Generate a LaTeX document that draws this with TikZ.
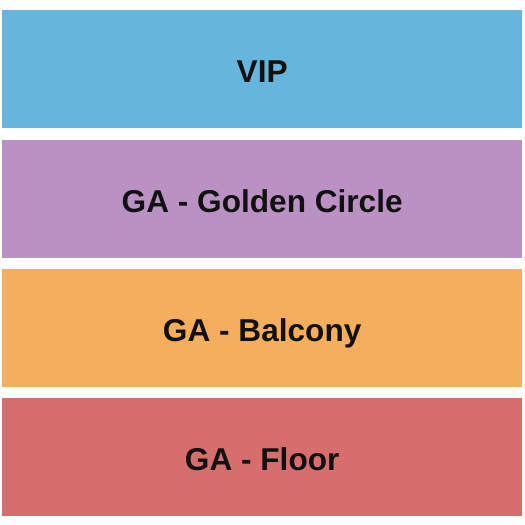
\documentclass[tikz,border=0pt]{standalone}
\usepackage{fontspec}
\setmainfont{Liberation Sans}
\usetikzlibrary{positioning}
\definecolor{vipblue}{HTML}{66B5DC}
\definecolor{goldenpurple}{HTML}{BA91C3}
\definecolor{balconyorange}{HTML}{F4AE5C}
\definecolor{floorred}{HTML}{D76E6E}
\definecolor{labeltext}{HTML}{111111}
\tikzstyle{section} = [rectangle, minimum width=520pt, minimum height=118pt, inner sep=0pt, text height=27pt, text depth=0pt, text=labeltext, font=\fontsize{31.6}{32}\selectfont\bfseries]
\begin{document}
\begin{tikzpicture}[x=1pt, y=1pt, node distance=11pt]
      \useasboundingbox (0,0) rectangle (525,-525);
      \node[section, fill=vipblue, anchor=north west] (vip) at (2,-10) {VIP};
      \node[section, fill=goldenpurple, below=of vip] (golden) {GA - Golden Circle};
      \node[section, fill=balconyorange, below=of golden] (balcony) {GA - Balcony};
      \node[section, fill=floorred, below=of balcony] (floor) {GA - Floor};
    \end{tikzpicture}
\end{document}
